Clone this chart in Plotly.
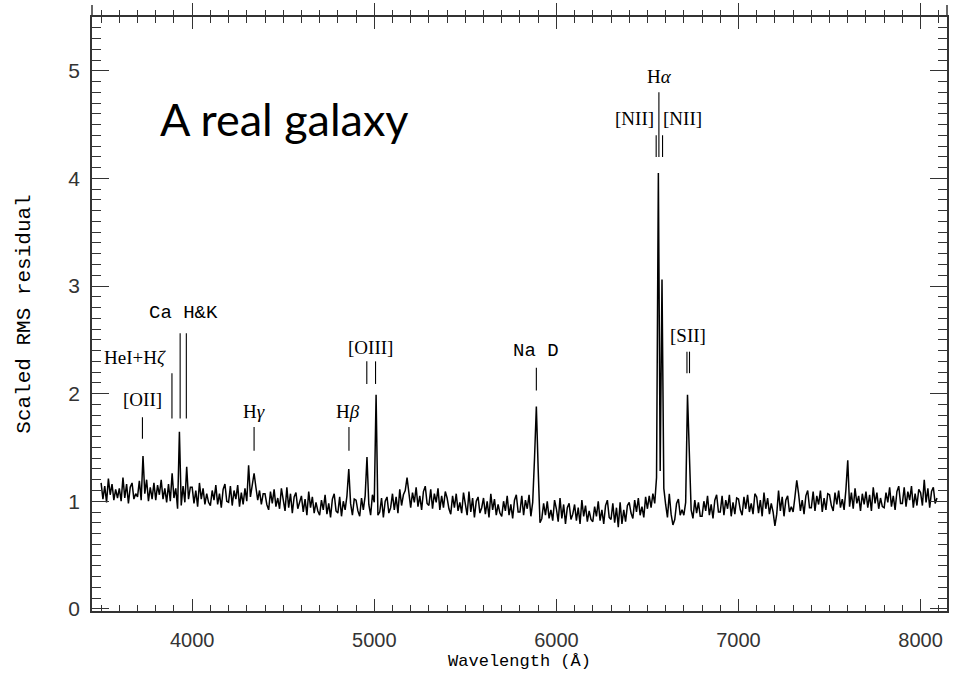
import plotly.graph_objects as go

# ---------------- data ----------------
WAVE_START = 3500      # first sample (Angstrom)
WAVE_STEP = 10         # sampling step (Angstrom)

# Scaled RMS residual, one value per 10 A from 3500 A to 8090 A
flux = [
    # 3500
    1.17, 1.02, 1.14, 0.99, 1.21, 1.06, 1.16, 1.01, 1.11, 1.03,
    # 3600
    1.12, 1.00, 1.22, 1.03, 1.16, 0.98, 1.13, 1.17, 1.02, 1.07,
    # 3700  ([OII] 3727)
    1.04, 1.19, 1.01, 1.42, 1.07, 1.20, 1.00, 1.13, 1.02, 1.17,
    # 3800  (HeI+Hzeta 3889)
    1.01, 1.15, 1.06, 1.20, 1.02, 1.12, 0.99, 1.16, 1.00, 1.26,
    # 3900  (Ca K, Ca H)
    1.03, 1.12, 0.93, 1.645, 0.96, 1.14, 0.99, 1.32, 1.02, 1.13,
    # 4000
    1.13, 0.98, 1.10, 0.95, 1.17, 1.02, 1.12, 0.97, 1.07, 0.99,
    # 4100
    0.96, 1.10, 1.01, 1.15, 0.97, 1.07, 0.94, 1.11, 1.16, 1.00,
    # 4200
    0.99, 1.14, 0.96, 1.10, 1.02, 1.15, 0.95, 1.08, 0.97, 1.12,
    # 4300  (G band / Hgamma)
    1.00, 1.335, 1.04, 1.15, 1.26, 1.13, 1.01, 1.10, 0.97, 1.07,
    # 4400
    1.07, 0.97, 0.92, 1.09, 0.98, 1.11, 0.95, 1.03, 0.93, 1.12,
    # 4500
    1.03, 0.91, 1.13, 0.94, 1.07, 0.89, 1.04, 1.08, 0.93, 0.98,
    # 4600
    1.05, 0.90, 1.02, 0.87, 1.09, 0.94, 1.04, 0.89, 0.99, 0.91,
    # 4700
    0.87, 1.01, 0.92, 1.06, 0.88, 0.98, 0.85, 1.02, 1.07, 0.91,
    # 4800  (Hbeta)
    0.89, 1.04, 0.86, 1.00, 0.92, 1.05, 1.30, 0.98, 0.87, 1.02,
    # 4900  ([OIII] 4959)
    1.01, 0.91, 0.86, 1.03, 0.92, 1.05, 1.41, 0.97, 0.87, 1.06,
    # 5000  ([OIII] 5007)
    0.99, 1.99, 0.87, 0.90, 1.03, 0.85, 1.00, 1.04, 0.89, 0.94,
    # 5100  (Mg b)
    1.07, 0.92, 1.04, 0.89, 1.11, 0.96, 1.06, 1.10, 1.22, 1.08,
    # 5200
    0.94, 1.08, 0.99, 1.13, 0.95, 1.05, 0.92, 1.09, 1.14, 0.98,
    # 5300
    0.96, 1.11, 0.93, 1.07, 0.99, 1.12, 0.92, 1.05, 0.94, 1.09,
    # 5400
    1.03, 0.93, 0.88, 1.05, 0.94, 1.07, 0.91, 0.99, 0.89, 1.08,
    # 5500
    0.99, 0.87, 1.09, 0.90, 1.03, 0.85, 1.00, 1.04, 0.89, 0.94,
    # 5600
    1.03, 0.88, 1.00, 0.85, 1.07, 0.92, 1.02, 0.87, 0.97, 0.89,
    # 5700
    0.86, 1.00, 0.91, 1.05, 0.87, 0.97, 0.84, 1.01, 1.06, 0.90,
    # 5800  (Na D)
    0.90, 1.05, 0.87, 1.01, 0.93, 1.06, 0.86, 0.99, 1.40, 1.88,
    # 5900
    1.30, 0.80, 0.84, 0.98, 0.87, 1.00, 0.84, 0.92, 0.82, 1.01,
    # 6000
    0.93, 0.81, 1.03, 0.84, 0.97, 0.79, 0.94, 0.98, 0.83, 0.88,
    # 6100
    0.97, 0.82, 0.94, 0.79, 1.01, 0.86, 0.96, 0.81, 0.91, 0.83,
    # 6200
    0.81, 0.95, 0.86, 1.00, 0.82, 0.92, 0.79, 0.96, 1.01, 0.85,
    # 6300
    0.83, 0.98, 0.80, 0.94, 0.76, 0.99, 0.79, 0.92, 0.81, 0.96,
    # 6400
    0.99, 0.89, 0.84, 1.01, 0.90, 1.03, 0.87, 0.95, 0.85, 1.04,
    # 6500  ([NII] 6548, Halpha, [NII] 6583)
    0.93, 1.05, 0.94, 1.07, 0.98, 1.22, 4.05, 1.28, 3.06, 1.12,
    # 6600
    0.97, 0.85, 1.07, 0.88, 0.78, 0.83, 0.98, 1.02, 0.87, 0.92,
    # 6700  ([SII] 6717, 6731)
    0.87, 0.99, 1.99, 1.47, 0.92, 0.84, 1.01, 0.89, 0.99, 0.86,
    # 6800
    0.86, 1.00, 0.91, 1.05, 0.87, 0.97, 0.84, 1.01, 1.06, 0.90,
    # 6900
    0.90, 1.05, 0.87, 1.01, 0.93, 1.06, 0.86, 0.99, 0.88, 1.03,
    # 7000
    1.02, 0.92, 0.87, 1.04, 0.93, 1.06, 0.90, 0.98, 0.88, 1.07,
    # 7100
    1.04, 0.89, 1.01, 0.86, 1.08, 0.93, 1.03, 0.88, 0.98, 0.90,
    # 7200
    0.77, 0.88, 1.10, 0.91, 1.04, 0.86, 1.01, 1.05, 0.90, 0.95,
    # 7300
    0.90, 1.04, 1.195, 1.07, 0.91, 1.01, 0.88, 1.05, 1.10, 0.94,
    # 7400
    0.94, 1.09, 0.91, 1.05, 0.97, 1.10, 0.90, 1.03, 0.92, 1.07,
    # 7500
    1.06, 0.96, 0.91, 1.08, 0.97, 1.10, 0.94, 1.02, 0.92, 1.11,
    # 7600
    1.38, 0.95, 1.08, 0.93, 1.12, 0.98, 1.05, 0.91, 1.07, 0.97,
    # 7700
    1.09, 0.94, 1.06, 0.91, 1.13, 0.98, 1.08, 0.93, 1.03, 0.95,
    # 7800
    0.94, 1.08, 0.99, 1.13, 0.95, 1.05, 0.92, 1.09, 1.14, 0.98,
    # 7900
    0.98, 1.13, 0.95, 1.09, 1.01, 1.14, 0.94, 1.07, 0.96, 1.11,
    # 8000
    1.08, 0.96, 1.20, 0.99, 1.12, 0.94, 1.09, 1.13, 0.98, 1.03,
]
wavelength = [WAVE_START + i * WAVE_STEP for i in range(len(flux))]

# feature labels: text, label wavelength, label height
label_text = ["[OII]", "HeI+H<i>ζ</i>", "Ca H&K", "H<i>γ</i>", "H<i>β</i>", "[OIII]",
              "Na D", "H<i>α</i>", "[NII]", "[NII]", "[SII]"]
label_wave = [3726, 3687, 3950, 4340, 4855, 4977, 5886, 6566, 6429, 6692, 6725]
label_y = [1.95, 2.34, 2.75, 1.83, 1.83, 2.43, 2.40, 4.95, 4.56, 4.56, 2.54]
label_mono = [False, False, True, False, False, False, True, False, False, False, False]

# feature marker ticks: wavelength, bottom, top
mark_wave = [3727, 3889, 3934, 3968, 4340, 4861, 4959, 5007, 5890, 6563, 6548, 6583, 6717, 6731]
mark_y0 = [1.58, 1.77, 1.77, 1.77, 1.47, 1.47, 2.09, 2.09, 2.03, 4.20, 4.20, 4.20, 2.19, 2.19]
mark_y1 = [1.78, 2.19, 2.56, 2.56, 1.69, 1.69, 2.30, 2.30, 2.24, 4.80, 4.40, 4.40, 2.39, 2.39]

X_RANGE = [3450, 8145]
Y_RANGE = [-0.02, 5.5]
x_ticks = [4000, 5000, 6000, 7000, 8000]
y_ticks = [0, 1, 2, 3, 4, 5]

# ---------------- figure ----------------
AX = "#333333"
SERIF = "Liberation Serif, Times New Roman, serif"
MONO = "Liberation Mono, Courier New, monospace"
SANS = "Liberation Sans, Arial, sans-serif"

fig = go.Figure()
fig.add_trace(go.Scatter(x=wavelength, y=flux, mode="lines",
                         line=dict(color="black", width=1.5),
                         showlegend=False, hoverinfo="skip"))
# invisible helpers so the extra top axes are drawn
for ax in ["x2", "x3"]:
    fig.add_trace(go.Scatter(x=[x_ticks[0]], y=[-10], xaxis=ax, yaxis="y", mode="markers",
                             marker=dict(opacity=0), showlegend=False, hoverinfo="skip"))

for w, a, b in zip(mark_wave, mark_y0, mark_y1):
    fig.add_shape(type="line", xref="x", yref="y", x0=w, x1=w, y0=a, y1=b,
                  line=dict(color="black", width=1.1))

for t, w, yv, mono in zip(label_text, label_wave, label_y, label_mono):
    fig.add_annotation(x=w, y=yv, xref="x", yref="y", text=t, showarrow=False,
                       xanchor="center", yanchor="middle",
                       font=dict(family=MONO if mono else SERIF, size=19, color="black"))

fig.add_annotation(x=4507, y=4.55, xref="x", yref="y", text="A real galaxy", showarrow=False,
                   xanchor="center", yanchor="middle",
                   font=dict(family="Lato, Open Sans, sans-serif", size=45, color="black"))

# little frame extensions above the top axis
for xp in [0, 1]:
    fig.add_shape(type="line", xref="paper", yref="paper", x0=xp, x1=xp, y0=1, y1=1.02,
                  line=dict(color=AX, width=1.5))

common_x = dict(range=X_RANGE, tickvals=x_ticks, showgrid=False, zeroline=False,
                showline=True, linecolor=AX, linewidth=1.5, tickcolor=AX, tickwidth=1.3)

fig.update_layout(
    width=954, height=677,
    margin=dict(l=92, r=5, t=17, b=66),
    paper_bgcolor="white", plot_bgcolor="white",
    xaxis=dict(**common_x, ticks="inside", ticklen=12,
               minor=dict(dtick=100, ticks="inside", ticklen=6, tickcolor=AX, tickwidth=1.2),
               tickfont=dict(family=SANS, size=20, color=AX), ticklabelstandoff=10,
               title=dict(text="Wavelength (Å)", font=dict(family=MONO, size=17, color="black"),
                          standoff=4)),
    xaxis2=dict(**common_x, overlaying="x", side="top", anchor="y", ticks="inside", ticklen=12,
                minor=dict(dtick=100, ticks="inside", ticklen=6, tickcolor=AX, tickwidth=1.2),
                showticklabels=False),
    xaxis3=dict(**common_x, overlaying="x", side="top", anchor="y", ticks="outside", ticklen=12,
                minor=dict(dtick=100, ticks="outside", ticklen=5, tickcolor=AX, tickwidth=1.2),
                showticklabels=False),
    yaxis=dict(range=Y_RANGE, tickvals=y_ticks, showgrid=False, zeroline=False,
               showline=True, linecolor=AX, linewidth=1.5, mirror="ticks",
               ticks="inside", ticklen=17, tickcolor=AX, tickwidth=1.3,
               minor=dict(dtick=0.1, ticks="inside", ticklen=9, tickcolor=AX, tickwidth=1.2),
               tickfont=dict(family=SANS, size=21, color=AX), ticklabelstandoff=6,
               title=dict(text="Scaled RMS residual", font=dict(family=MONO, size=21, color="black"),
                          standoff=32)),
)

fig.write_html("out.html")
